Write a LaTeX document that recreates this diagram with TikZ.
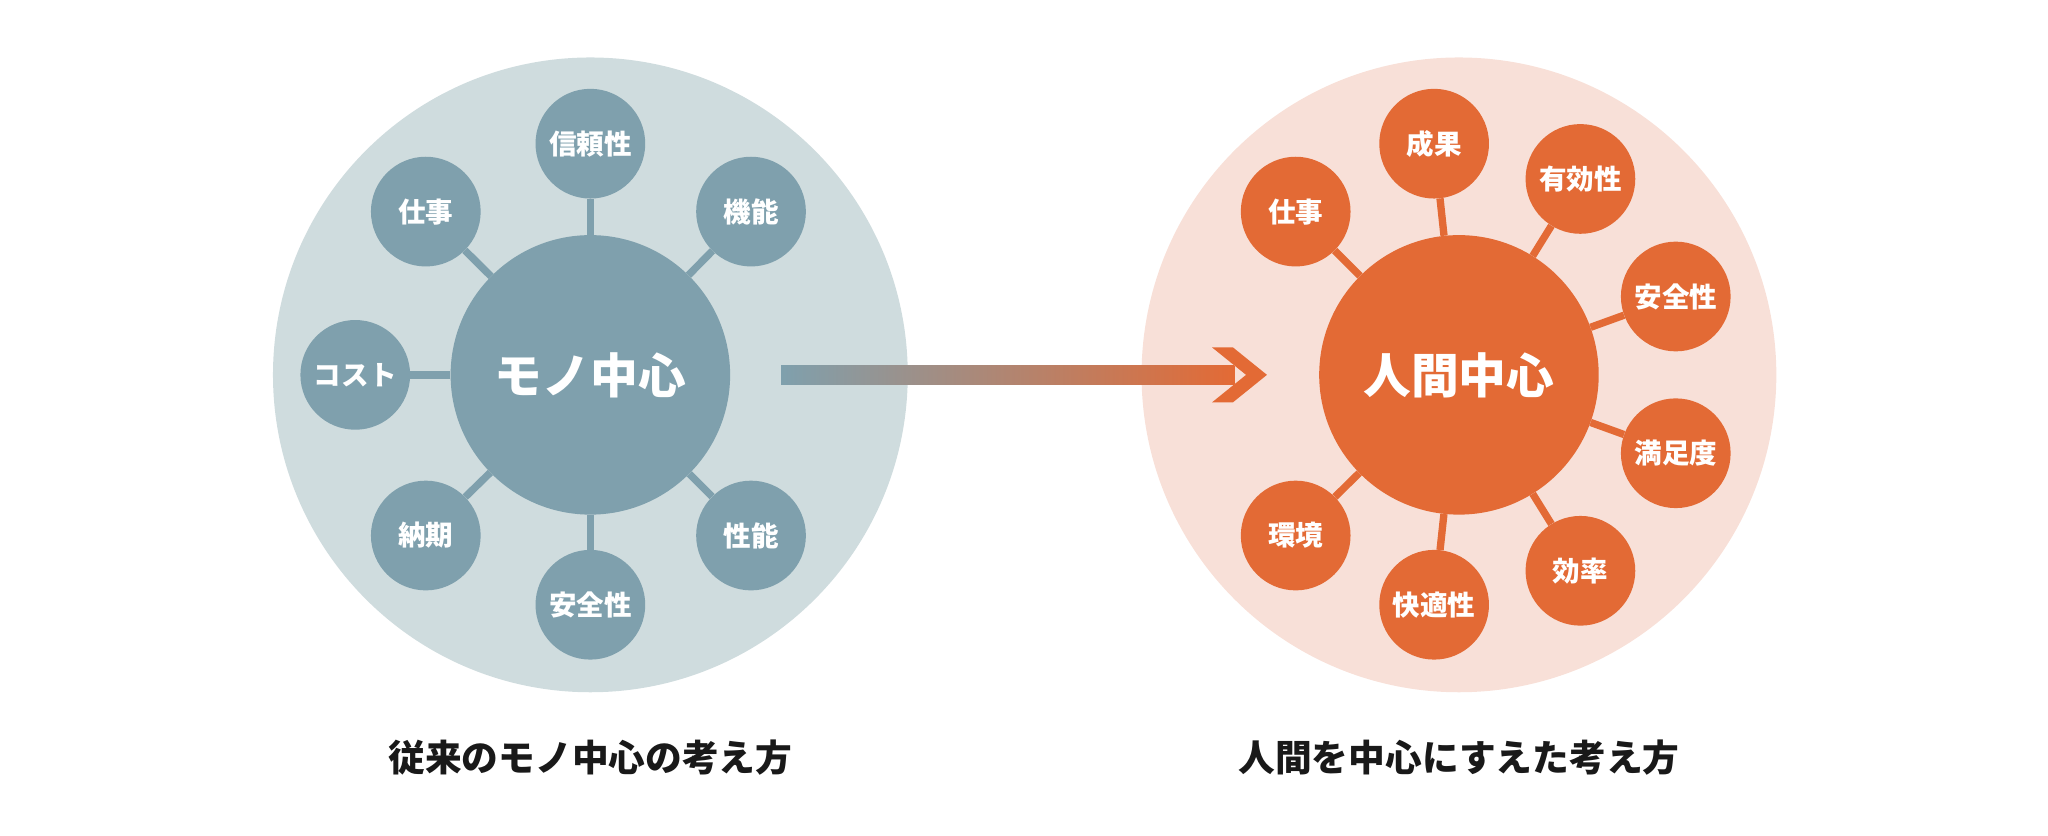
\documentclass[tikz,border=0pt]{standalone}
\usepackage{fontspec}
\setmainfont{Noto Sans CJK JP}
\begin{document}
\begin{tikzpicture}[x=0.05cm,y=-0.05cm,
  sat/.style={circle,minimum size=84*0.05cm,inner sep=0pt,text=white,font=\fontsize{30}{30}\selectfont\bfseries},
  hub/.style={circle,minimum size=214*0.05cm,inner sep=0pt,text=white,font=\fontsize{52}{52}\selectfont\bfseries},
  big/.style={circle,minimum size=486*0.05cm,inner sep=0pt},
  captext/.style={font=\fontsize{40}{40}\selectfont\bfseries,text=black!90}]
\definecolor{lb}{HTML}{CFDCDE}\definecolor{db}{HTML}{7FA0AD}
\definecolor{lo}{HTML}{F8E0D8}\definecolor{do}{HTML}{E36A35}
\useasboundingbox (0,0) rectangle (1568,640);
% left
\node[big,fill=lb] (L) at (452,287) {};
\node[hub,fill=db] (Lc) at (452,287) {モノ中心};
\foreach \n/\x/\y/\t in {l1/452/110/信頼性,l2/575/162/機能,l3/272/287/コスト,l4/326/162/仕事,l5/326/410/納期,l6/452/463/安全性,l7/575/410/性能}{
  \node[sat,fill=db] (\n) at (\x,\y) {\t};
}
\foreach \n in {l1,l2,l3,l4,l5,l6,l7}{\draw[db,line width=8pt] (Lc) -- (\n);}
% right
\node[big,fill=lo] (R) at (1117,287) {};
\node[hub,fill=do] (Rc) at (1117,287) {人間中心};
\foreach \n/\x/\y/\t in {r1/1098/110/成果,r2/1210/137/有効性,r3/992/162/仕事,r4/1283/227/安全性,r5/1283/347/満足度,r6/992/410/環境,r7/1098/463/快適性,r8/1210/437/効率}{
  \node[sat,fill=do] (\n) at (\x,\y) {\t};
}
\foreach \n in {r1,r2,r3,r4,r5,r6,r7,r8}{\draw[do,line width=8pt] (Rc) -- (\n);}
% arrow
\shade[left color=db,right color=do] (598,280) rectangle (945,294);
\fill[do] (928,266) -- (944,266) -- (970,287) -- (944,308) -- (928,308) -- (954,287) -- cycle;
% captions
\node[captext] (c1) at (452,580) {従来のモノ中心の考え方};
\node[captext] (c2) at (1117,580) {人間を中心にすえた考え方};
\end{tikzpicture}
\end{document}
